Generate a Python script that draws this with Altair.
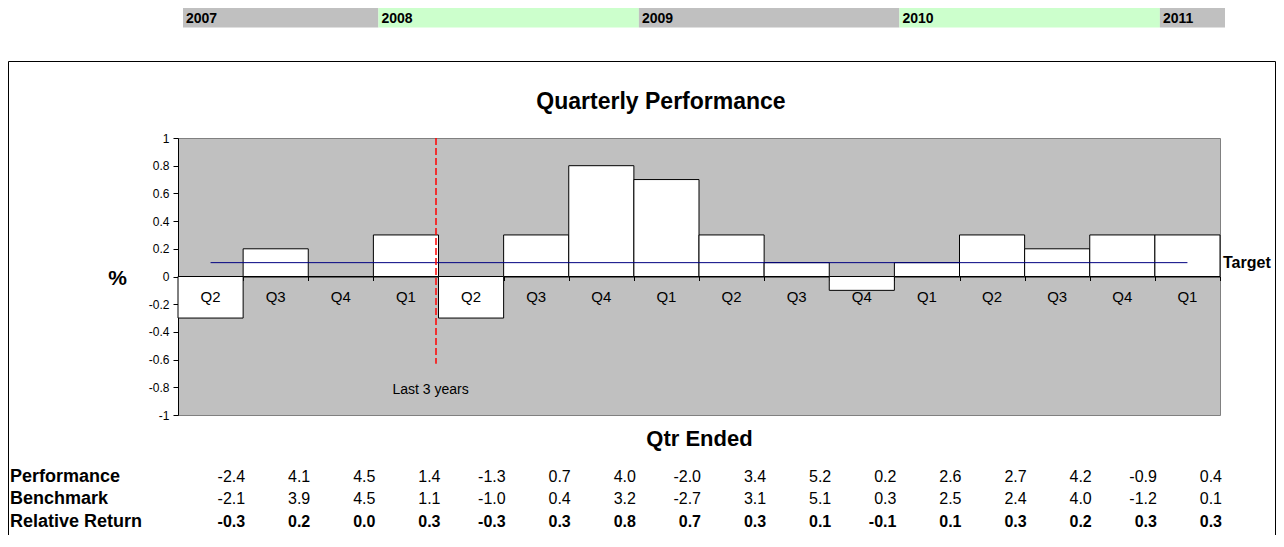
import altair as alt
import pandas as pd

# ---------------- data ----------------
quarters = ["Q2", "Q3", "Q4", "Q1", "Q2", "Q3", "Q4", "Q1",
            "Q2", "Q3", "Q4", "Q1", "Q2", "Q3", "Q4", "Q1"]
performance = [-2.4, 4.1, 4.5, 1.4, -1.3, 0.7, 4.0, -2.0, 3.4, 5.2, 0.2, 2.6, 2.7, 4.2, -0.9, 0.4]
benchmark = [-2.1, 3.9, 4.5, 1.1, -1.0, 0.4, 3.2, -2.7, 3.1, 5.1, 0.3, 2.5, 2.4, 4.0, -1.2, 0.1]
relative = [-0.3, 0.2, 0.0, 0.3, -0.3, 0.3, 0.8, 0.7, 0.3, 0.1, -0.1, 0.1, 0.3, 0.2, 0.3, 0.3]

years = ["2007", "2008", "2009", "2010", "2011"]
year_first_q = [0, 3, 7, 11, 15]
year_end_q = [3, 7, 11, 15, 16]
year_colors = ["#C0C0C0", "#CCFFCC", "#C0C0C0", "#CCFFCC", "#C0C0C0"]

target = 0.1
last3_start_q = 4
y_ticks = [-1, -0.8, -0.6, -0.4, -0.2, 0, 0.2, 0.4, 0.6, 0.8, 1]
row_names = ["Performance", "Benchmark", "Relative Return"]
row_values = [performance, benchmark, relative]

n = len(quarters)
FONT = "Liberation Sans"
W, H = 1042, 277

bars_df = pd.DataFrame({
    "q": quarters,
    "x0": list(range(n)),
    "x1": [i + 1 for i in range(n)],
    "mid": [i + 0.5 for i in range(n)],
    "rel": relative,
})
year_df = pd.DataFrame({"year": years, "start": year_first_q, "end": year_end_q, "color": year_colors})
target_df = pd.DataFrame({"xa": [0.5], "xb": [n - 0.5], "t": [target]})
one = pd.DataFrame({"a": [0]})

x_scale = alt.Scale(domain=[0, n], nice=False, zero=False)
y_scale = alt.Scale(domain=[-1, 1], nice=False)

x_axis = alt.Axis(
    values=list(range(n + 1)), labels=False, ticks=True, tickSize=4, tickColor="black",
    domain=True, domainColor="black", grid=False, offset=-138.5,
    title="Qtr Ended", titleFontSize=22, titleFontWeight="bold", titleColor="black",
    titleFont=FONT, titleY=161.7, titleBaseline="middle")
y_axis = alt.Axis(
    values=y_ticks,
    labelExpr="datum.value == 0 ? '0' : (datum.value < 0 ? '-' : '') + format(abs(datum.value), '~g')",
    labelOverlap=False,
    tickSize=5, tickColor="black", labelFontSize=12, labelColor="black", labelFont=FONT,
    labelPadding=4, domainColor="black", grid=False,
    title="%", titleAngle=0, titleFontSize=21, titleFontWeight="bold", titleColor="black",
    titleFont=FONT, titleX=-61, titleY=140, titleAlign="center", titleBaseline="middle")


def xf(field):
    return alt.X(field, scale=x_scale, axis=x_axis)


def yf(field):
    return alt.Y(field, scale=y_scale, axis=y_axis)


def xd(v):
    return alt.XDatum(v, scale=x_scale, axis=x_axis)


def yd(v):
    return alt.YDatum(v, scale=y_scale, axis=y_axis)


# outer frame
box = alt.Chart(one).mark_rect(fillOpacity=0, stroke="black", strokeWidth=1).encode(
    x=alt.value(-169.5), x2=alt.value(1097.5), y=alt.value(-76.5), y2=alt.value(460)
)

# year band
year_rect = alt.Chart(year_df).mark_rect(xOffset=5, x2Offset=5).encode(
    x=xf("start:Q"), x2="end:Q",
    y=alt.value(-132), y2=alt.value(-110.5),
    color=alt.Color("color:N", scale=None),
)
year_text = alt.Chart(year_df).mark_text(
    align="left", baseline="middle", dx=8, fontSize=14, fontWeight="bold", font=FONT, color="black"
).encode(x=xf("start:Q"), y=alt.value(-119.2), text="year:N")

# bars
bars = alt.Chart(bars_df).mark_rect(fill="white", stroke="black", strokeWidth=1).encode(
    x=xf("x0:Q"), x2="x1:Q", y=yf("rel:Q"), y2=alt.datum(0),
)

target_line = alt.Chart(target_df).mark_rule(color="#000080", strokeWidth=1).encode(
    x=xf("xa:Q"), x2="xb:Q", y=yf("t:Q")
)
target_text = alt.Chart(target_df).mark_text(
    align="left", baseline="middle", fontSize=16, fontWeight="bold", font=FONT, color="black"
).encode(x=alt.value(W + 3), y=yf("t:Q"), text=alt.value("Target"))

last3_line = alt.Chart(one).mark_rule(color="red", strokeDash=[7, 3], strokeWidth=1.5, xOffset=-2.5).encode(
    x=xd(last3_start_q), y=yd(1), y2=alt.datum(-0.63)
)
last3_text = alt.Chart(one).mark_text(
    align="center", baseline="middle", dx=-8, fontSize=14, font=FONT, color="black"
).encode(x=xd(last3_start_q), y=yd(-0.82), text=alt.value("Last 3 years"))

q_labels = alt.Chart(bars_df).mark_text(
    align="center", baseline="middle", fontSize=15, font=FONT, color="black"
).encode(x=xf("mid:Q"), y=yd(-0.15), text="q:N")

title = alt.Chart(one).mark_text(
    align="center", baseline="middle", fontSize=23, fontWeight="bold", font=FONT, color="black"
).encode(x=alt.value(483), y=alt.value(-35.7), text=alt.value("Quarterly Performance"))

layers = [box, year_rect, year_text, bars, target_line, target_text,
          last3_line, last3_text, q_labels, title]

row_y = [338.7, 361.3, 384.0]
for r, (name, vals) in enumerate(zip(row_names, row_values)):
    bold = "bold" if r == 2 else "normal"
    rdf = pd.DataFrame({"x1": [i + 1 for i in range(n)], "s": [f"{v:.1f}" for v in vals]})
    layers.append(alt.Chart(one).mark_text(
        align="left", baseline="middle", fontSize=18, fontWeight="bold", font=FONT, color="black"
    ).encode(x=alt.value(-168), y=alt.value(row_y[r]), text=alt.value(name)))
    layers.append(alt.Chart(rdf).mark_text(
        align="right", baseline="middle", dx=2, fontSize=16, fontWeight=bold, font=FONT, color="black"
    ).encode(x=xf("x1:Q"), y=alt.value(row_y[r]), text="s:N"))

chart = alt.layer(*layers).properties(
    width=W, height=H,
    autosize=alt.AutoSizeParams(type="none"),
    padding={"left": 170, "top": 130, "right": 56, "bottom": 120},
).configure(font=FONT, background="white").configure_view(
    fill="#C0C0C0", stroke="#808080", strokeWidth=1
)

chart.save("out.html", embed_options={"renderer": "svg", "actions": False})
